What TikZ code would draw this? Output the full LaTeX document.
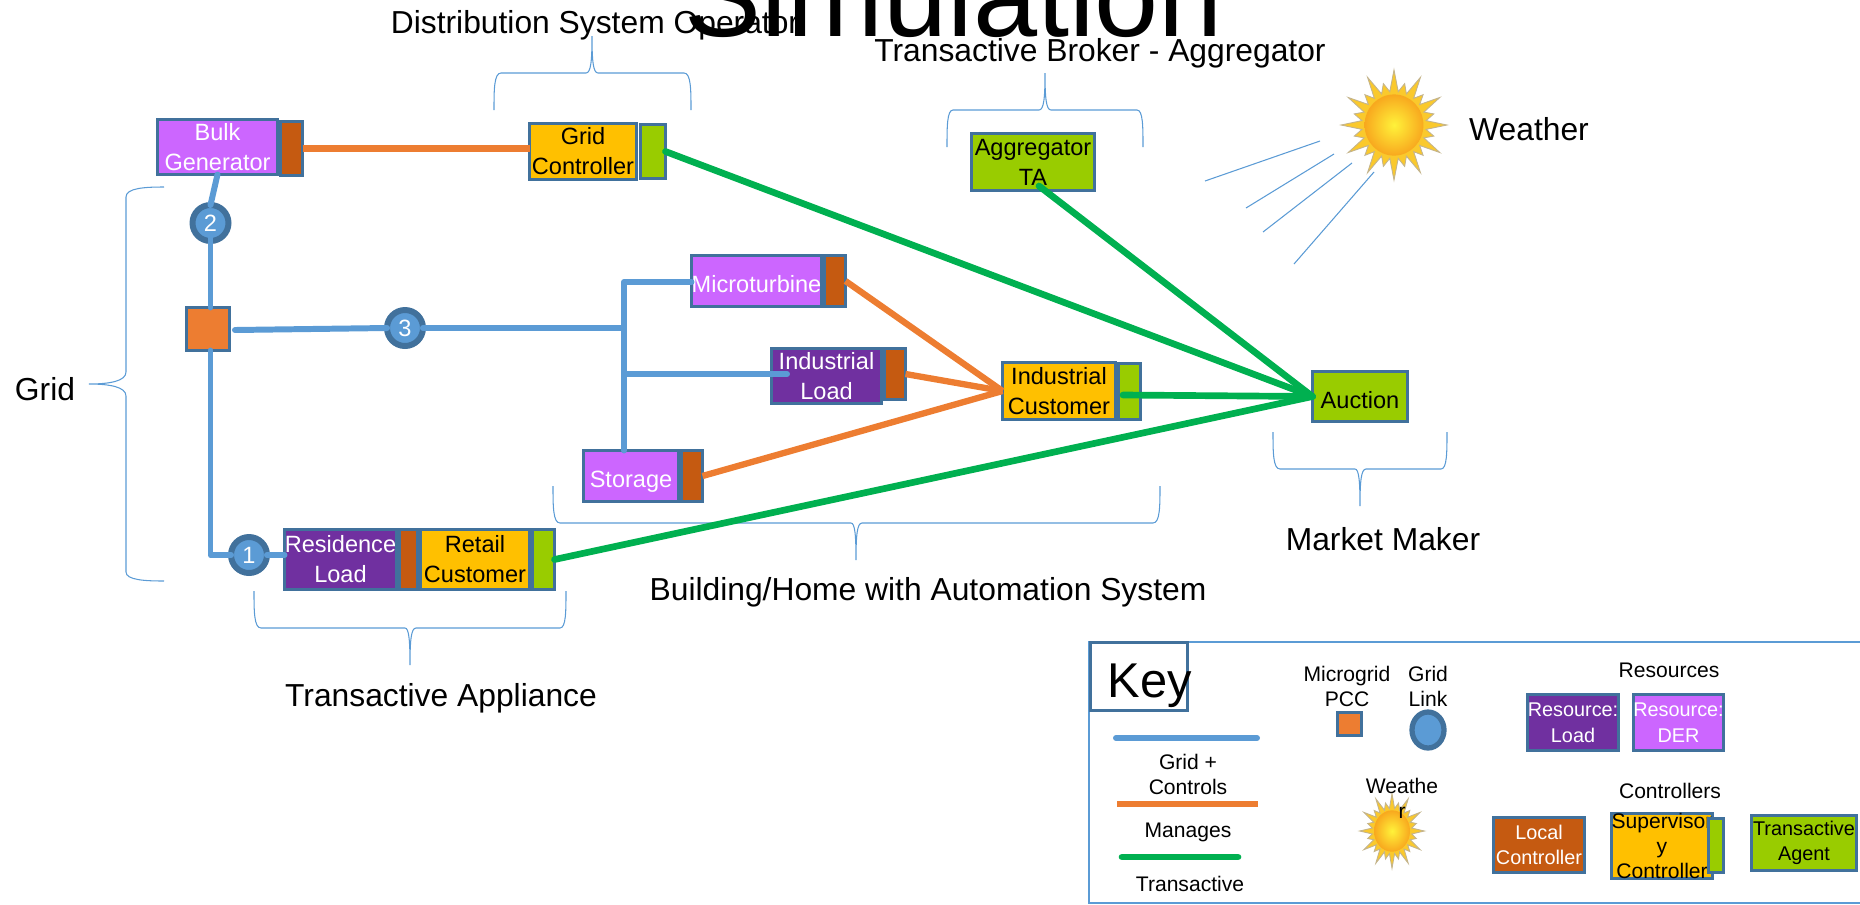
\documentclass[tikz,border=0pt]{standalone}
\usepackage{fontspec}
\setmainfont{Liberation Sans}
\usetikzlibrary{shapes.geometric}

\definecolor{gridblue}{HTML}{5B9BD5}
\definecolor{edgeblue}{HTML}{41719C}
\definecolor{manageorange}{HTML}{ED7D31}
\definecolor{transgreen}{HTML}{00B050}
\definecolor{loadpurple}{HTML}{7030A0}
\definecolor{derviolet}{HTML}{CC66FF}
\definecolor{ctrlbrown}{HTML}{C55A11}
\definecolor{superyellow}{HTML}{FFC000}
\definecolor{agentgreen}{HTML}{99CC00}
\definecolor{sunspike}{HTML}{FAC92C}
\definecolor{sunedge}{HTML}{C4B48C}
\definecolor{suninner}{HTML}{FFF23A}
\definecolor{sunouter}{HTML}{F8A81E}

\tikzset{
  size/.style 2 args={minimum width=#1*0.02cm, minimum height=#2*0.02cm},
  box/.style={draw=edgeblue, line width=1.6pt, rectangle, inner sep=0pt, outer sep=0pt, align=center,
    font=\fontsize{13.4pt}{17pt}\selectfont, execute at begin node={\rule{0pt}{1em}}},
  keybox/.style={box, font=\fontsize{11.3pt}{14.6pt}\selectfont, execute at begin node={\rule{0pt}{1.15em}}},
  load/.style={fill=loadpurple, text=white},
  der/.style={fill=derviolet, text=white},
  ctrl/.style={fill=ctrlbrown, text=white},
  super/.style={fill=superyellow, text=black},
  agent/.style={fill=agentgreen, text=black},
  link/.style={circle, draw=edgeblue, fill=gridblue, line width=3.4pt, minimum size=36*0.02cm, inner sep=0pt,
    outer sep=0pt, text=white, font=\fontsize{13.4pt}{16.4pt}\selectfont},
  caption/.style={inner sep=0pt, font=\fontsize{18.1pt}{21pt}\selectfont},
  keytext/.style={inner sep=0pt, align=center, font=\fontsize{12pt}{14.2pt}\selectfont},
  gridline/.style={draw=gridblue, line width=3.4pt, line cap=round, line join=round},
  manages/.style={draw=manageorange, line width=3.6pt},
  transact/.style={draw=transgreen, line width=3.8pt, line cap=round},
  kerb/.style={draw=gridblue, line width=0.6pt},
}

\newcommand{\sunburst}[4]{
  \begin{scope}[shift={(#1,#2)}, xscale=#3, yscale=#4]
    \filldraw[draw=sunedge, fill=sunspike, line width=0.5pt] (54,0)
      \foreach \k [evaluate=\k as \r using {mod(\k,4)==0 ? 54 : (mod(\k,2)==0 ? 42 : 33)}] in {1,...,47} { -- ({\k*7.5}:\r) } -- cycle;
    \shade[inner color=suninner, outer color=sunouter] (0,0) circle (30);
  \end{scope}
}

\begin{document}
\begin{tikzpicture}[x=0.02cm, y=-0.02cm]
  \useasboundingbox (0,0) rectangle (1860,904);

  % Captions
  \node (dso) at (595,25) [caption] {Distribution System Operator};
  \node (title) at (954,36) [anchor=base, inner sep=0pt, font=\fontsize{65.6pt}{70pt}\selectfont] {Simulation};
  \node (broker) at (1100,53) [caption] {Transactive Broker - Aggregator};
  \node (weather) at (1529,129) [caption] {Weather};
  \node (gridcap) at (45,389) [caption] {Grid};
  \node (market) at (1383,539) [caption] {Market Maker};
  \node (building) at (928,592) [caption] {Building/Home with Automation System};
  \node (appliance) at (441,698) [caption] {Transactive Appliance};

  % Sun and rays
  \sunburst{1394}{125}{0.98}{1.02}
  \foreach \xa/\ya/\xb/\yb in {1320/141/1205/181, 1334/154/1246/208, 1352/163/1263/232, 1374/172/1294/264}
    \draw[kerb] (\xa,\ya) -- (\xb,\yb);

  % Braces
  \draw[kerb] (494,110) .. controls (494,90) and (494,73) .. (501,73) -- (586,73) .. controls (591,73) and (592,60) .. (592,36)
    .. controls (592,60) and (593,73) .. (598,73) -- (684,73) .. controls (691,73) and (691,90) .. (691,110);
  \draw[kerb] (947,147) .. controls (947,127) and (947,110) .. (953,110) -- (1039,110) .. controls (1044,110) and (1045,97) .. (1045,73)
    .. controls (1045,97) and (1046,110) .. (1051,110) -- (1137,110) .. controls (1143,110) and (1143,127) .. (1143,147);
  \draw[kerb] (1273,432) .. controls (1273,452) and (1273,469) .. (1280,469) -- (1355,469) .. controls (1359,469) and (1360,482) .. (1360,506)
    .. controls (1360,482) and (1361,469) .. (1366,469) -- (1441,469) .. controls (1447,469) and (1447,452) .. (1447,432);
  \draw[kerb] (553,486) .. controls (553,506) and (553,523) .. (560,523) -- (851,523) .. controls (855,523) and (856,536) .. (856,560)
    .. controls (856,536) and (857,523) .. (862,523) -- (1153,523) .. controls (1160,523) and (1160,506) .. (1160,486);
  \draw[kerb] (254,591) .. controls (254,611) and (254,628) .. (261,628) -- (405,628) .. controls (409,628) and (410,641) .. (410,665)
    .. controls (410,641) and (411,628) .. (416,628) -- (560,628) .. controls (566,628) and (566,611) .. (566,591);
  \draw[kerb] (164,187) .. controls (145,187) and (126,188) .. (126,197) -- (126,372) .. controls (126,381) and (110,384) .. (89,384)
    .. controls (110,384) and (126,387) .. (126,396) -- (126,572) .. controls (126,580) and (145,581) .. (164,581);

  % Top row
  \node (bulk) at (217.5,147) [box, der, size={120}{55}] {Bulk\\Generator};
  \node (bulkctrl) at (291.5,148.5) [box, ctrl, size={22}{54}] {};
  \node (gridctrl) at (583,151.5) [box, super, size={107}{56}] {Grid\\Controller};
  \node (gridta) at (653,151.5) [box, agent, size={25}{54}] {};
  \node (aggr) at (1033,162) [box, agent, size={123}{57}] {Aggregator\\TA};

  % Microgrid
  \node (pcc) at (208,329) [box, fill=manageorange, size={43}{43}] {};
  \node (n2) at (210.5,223) [link] {2};
  \node (n3) at (405,328) [link] {3};
  \node (n1) at (249,555) [link] {1};
  \node (micro) at (756.5,281) [box, der, size={130}{51}] {Microturbine};
  \node (microctrl) at (835,281) [box, ctrl, size={21}{51}] {};
  \node (indload) at (826.5,376) [box, load, size={110}{55}] {Industrial\\Load};
  \node (indctrl) at (895,374) [box, ctrl, size={21}{51}] {};
  \node (storage) at (631,476) [box, der, size={95}{51}, text depth=0pt] {Storage};
  \node (storctrl) at (692,476) [box, ctrl, size={21}{51}] {};
  \node (indcust) at (1059,391) [box, super, size={113}{57}] {Industrial\\Customer};
  \node (indta) at (1129.5,391.5) [box, agent, size={22}{56}] {};
  \node (auction) at (1360,396.5) [box, agent, size={95}{50}] {Auction};

  % Residence
  \node (resload) at (340.5,559.5) [box, load, size={112}{60}] {Residence\\Load};
  \node (resctrl) at (408.5,559.5) [box, ctrl, size={18}{60}] {};
  \node (retail) at (475,559.5) [box, super, size={109}{60}] {Retail\\Customer};
  \node (retta) at (543.5,559.5) [box, agent, size={22}{60}] {};

  % Grid and controls
  \coordinate (pccout) at (235,330);
  \coordinate (bustop) at (624,282);
  \coordinate (busmid) at (624,328);
  \coordinate (buslow) at (624,374);
  \coordinate (loadtap) at (787,374);
  \draw[gridline] (bulk.south) -- (n2.north);
  \draw[gridline, shorten <=-3pt] (n2.south) -- (n2.south |- pcc.north);
  \draw[gridline] (pccout) -- (n3.west);
  \draw[gridline] (n3.east) -- (busmid);
  \draw[gridline] (n2.south |- pcc.south) -- (n2.south |- n1) -- (n1.west);
  \draw[gridline] (n1.east) -- (n1 -| resload.west);
  \draw[gridline] (micro.west |- bustop) -- (bustop) -- (bustop |- storage.north);
  \draw[gridline] (buslow) -- (loadtap);

  % Manages
  \draw[manages] (bulkctrl.east) -- (bulkctrl.east -| gridctrl.west);
  \draw[manages] (microctrl.east) -- (indcust.west);
  \draw[manages] (indctrl.east) -- (indcust.west);
  \draw[manages] (storctrl.east) -- (indcust.west);

  % Transactive
  \coordinate (aggrport) at (1039,186);
  \coordinate (indport) at (1123,395);
  \draw[transact] (gridta.east) -- (auction.west);
  \draw[transact] (aggrport) -- (auction.west);
  \draw[transact] (indport) -- (auction.west);
  \draw[transact] (retta.east) -- (auction.west);

  % Key
  \draw[draw=gridblue, line width=1.6pt] (1870,642) -- (1089,642) -- (1089,903) -- (1870,903);
  \node (keyframe) at (1139,676.5) [box, fill=white, size={97}{68}] {};
  \node (keylabel) at (1150,686) [inner sep=0pt, font=\fontsize{27.8pt}{30pt}\selectfont] {Key};

  \coordinate (blueA) at (1116,738);
  \coordinate (blueB) at (1257,738);
  \coordinate (orangeA) at (1117,804);
  \coordinate (orangeB) at (1258,804);
  \coordinate (greenA) at (1122,857);
  \coordinate (greenB) at (1238,857);
  \draw[gridline] (blueA) -- (blueB);
  \draw[manages] (orangeA) -- (orangeB);
  \draw[transact] (greenA) -- (greenB);
  \node (keygrid) at (1188,774) [keytext] {Grid +\\Controls};
  \node (keymanages) at (1188,832) [keytext] {Manages};
  \node (keytrans) at (1190,884) [keytext] {Transactive};

  \node (keymicro) at (1347,686) [keytext] {Microgrid\\PCC};
  \node (keylinktxt) at (1428,686) [keytext] {Grid\\Link};
  \node (keypcc) at (1349.5,724) [box, fill=manageorange, size={24}{23}] {};
  \node (keylink) at (1428,730) [ellipse, draw=edgeblue, fill=gridblue, line width=3pt, inner sep=0pt, outer sep=0pt, size={32}{36}] {};

  \sunburst{1392}{831}{0.6}{0.69}
  \node (keyweather) at (1402,798) [keytext] {Weathe\\r};

  \node (keyres) at (1669,670) [keytext] {Resources};
  \node (keyload) at (1573,722.5) [keybox, load, size={91}{56}] {Resource:\\Load};
  \node (keyder) at (1678.5,722.5) [keybox, der, size={90}{56}] {Resource:\\DER};
  \node (keyctrls) at (1670,791) [keytext] {Controllers};
  \node (keylocal) at (1539,845) [keybox, ctrl, size={91}{55}] {Local\\Controller};
  \node (keysuper) at (1662,846) [box, super, size={93}{56}, font=\fontsize{12pt}{14pt}\selectfont, execute at begin node={}] {Supervisor\\y\\Controller};
  \node (keyta) at (1716,845.5) [box, agent, size={15}{54}] {};
  \node (keyagent) at (1804,843) [keybox, agent, size={105}{55}] {Transactive\\Agent};
\end{tikzpicture}
\end{document}
